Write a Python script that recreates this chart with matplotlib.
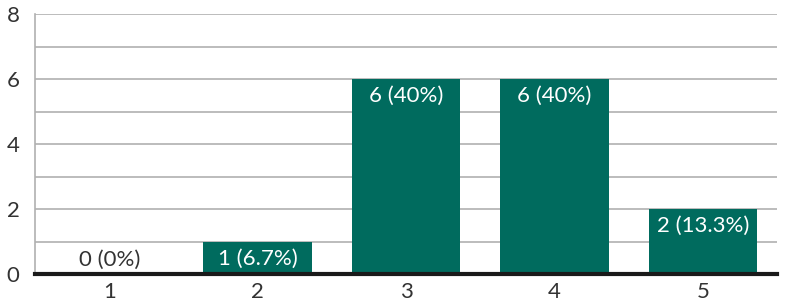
import matplotlib
matplotlib.use("Agg")
import matplotlib.pyplot as plt

categories = ["1", "2", "3", "4", "5"]
counts = [0, 1, 6, 6, 2]
labels = ["0 (0%)", "1 (6.7%)", "6 (40%)", "6 (40%)", "2 (13.3%)"]
yticks = [0, 2, 4, 6, 8]

color = "#006B5E"
plt.rcParams['font.family'] = ['Lato', 'DejaVu Sans']

fig = plt.figure(figsize=(8.11, 3.07), dpi=100)
ax = fig.add_axes([35/811, 33/307, 742/811, 260/307])
x = list(range(len(categories)))
ax.bar(x, counts, width=0.73, color=color, zorder=3)
ax.set_xlim(-0.5, len(categories) - 0.5)
ax.set_ylim(0, 8)
ax.set_yticks(yticks)
ax.set_yticks(range(0, 9), minor=True)
ax.yaxis.grid(True, which='both', color='#b0b0b0', linewidth=1.2, zorder=0)
ax.set_xticks(x)
ax.set_xticklabels(categories)
ax.tick_params(axis='both', which='both', length=0, labelsize=16, colors='#333333', pad=6)
ax.tick_params(axis='y', pad=11)
for s in ['top', 'right']:
    ax.spines[s].set_visible(False)
ax.spines['left'].set_color('#b0b0b0')
ax.spines['left'].set_linewidth(1.2)
ax.spines['bottom'].set_color('#1a1a1a')
ax.spines['bottom'].set_linewidth(3)
ax.spines['bottom'].set_zorder(4)

for xi, c, lab in zip(x, counts, labels):
    if c == 0:
        ax.annotate(lab, (xi, 0), xytext=(0, 3), textcoords='offset points',
                    ha='center', va='bottom', fontsize=16, color='#333333', zorder=5)
    else:
        ax.annotate(lab, (xi, c), xytext=(0, -5), textcoords='offset points',
                    ha='center', va='top', fontsize=16, color='white', zorder=5)

fig.savefig("out.png", dpi=100)
